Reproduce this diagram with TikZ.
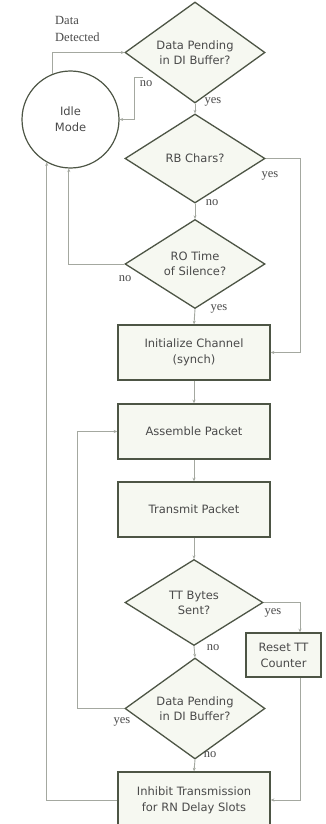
\documentclass[tikz,border=0pt]{standalone}
\usepackage{fontspec}
\setmainfont{Liberation Serif}
\newfontfamily\boxfont{DejaVu Sans}
\usetikzlibrary{shapes.geometric,arrows.meta}
\definecolor{edgec}{HTML}{4D5545}
\definecolor{fillc}{HTML}{F6F8F1}
\definecolor{linec}{HTML}{A4A8A0}
\definecolor{txtc}{HTML}{4A4A4A}
\tikzset{
  dec/.style={diamond, draw=edgec, line width=1.3pt, fill=fillc, inner sep=0pt,
     minimum width=140pt, minimum height=89pt, align=center, text=txtc,
     font=\boxfont\fontsize{11.5}{15}\selectfont},
  procbox/.style={rectangle, draw=edgec, line width=1.5pt, fill=fillc,
     minimum width=152pt, minimum height=55pt, align=center, text=txtc,
     font=\boxfont\fontsize{11.5}{16}\selectfont},
  idlec/.style={circle, draw=edgec, line width=1.2pt, fill=white,
     minimum size=97pt, align=center, text=txtc,
     font=\boxfont\fontsize{11.5}{16}\selectfont},
  arr/.style={draw=linec, line width=0.9pt, -{Stealth[length=3.5pt,width=3pt]}},
  lbl/.style={text=txtc, font=\fontsize{12.5}{17}\selectfont, inner sep=0pt}
}
\begin{document}
\begin{tikzpicture}[x=1pt,y=-1pt]
\useasboundingbox (0,0) rectangle (325,824);
\fill[white] (0,0) rectangle (325,824);

\node[idlec] (idle) at (70.5,119.5) {Idle\\Mode};
\node[dec] (d1) at (195,52.5) {Data Pending\\in DI Buffer?};
\node[dec] (d2) at (195,158.5) {RB Chars?};
\node[dec] (d3) at (195,264) {RO Time\\of Silence?};
\node[procbox] (init) at (194,352.5) {Initialize Channel\\(synch)};
\node[procbox] (asm) at (194,431.5) {Assemble Packet};
\node[procbox] (tx) at (194,509.5) {Transmit Packet};
\node[dec, minimum width=138pt, minimum height=86pt] (tt) at (194,602.5) {TT Bytes\\Sent?};
\node[procbox, minimum width=75pt, minimum height=44pt] (reset) at (283.5,655) {Reset TT\\Counter};
\node[dec, minimum height=87pt] (d4) at (195,708.5) {Data Pending\\in DI Buffer?};
\node[procbox, minimum height=56pt] (inh) at (194,800) {Inhibit Transmission\\for RN Delay Slots};

\node[lbl, align=left, anchor=north west] (dd) at (55,16) {Data\\Detected};

% connectors
\draw[arr] (idle.112) |- (d1.west);
\coordinate (n1s) at (143,77);
\draw[arr] (n1s) -- ++(-9,0) |- (idle.east);
\draw[arr] (d1.south) -- (d2.north);
\draw[arr] (d2.east) -- ++(35,0) |- (init.east);
\draw[arr] (d2.south) -- (d3.north);
\draw[arr] (d3.west) -| (idle.268);
\draw[arr] (d3.south) -- (init.north);
\draw[arr] (init.south) -- (asm.north);
\draw[arr] (asm.south) -- (tx.north);
\draw[arr] (tx.south) -- (tt.north);
\draw[arr] (tt.east) -| ([xshift=16.5pt]reset.north);
\draw[arr] ([xshift=16.5pt]reset.south) |- (inh.east);
\draw[arr] (tt.south) -- (d4.north);
\draw[arr] (d4.west) -- ++(-47,0) |- (asm.west);
\draw[arr] (d4.south) -- (inh.north);
\draw[arr] (inh.west) -| (idle.241);

% labels
\node[lbl] (l1) at (146,84) {no};
\node[lbl] (l2) at (213,102) {yes};
\node[lbl] (l3) at (270,176) {yes};
\node[lbl] (l4) at (212,203) {no};
\node[lbl] (l5) at (125,279) {no};
\node[lbl] (l6) at (219,309) {yes};
\node[lbl] (l7) at (273,613) {yes};
\node[lbl] (l8) at (213,648) {no};
\node[lbl] (l9) at (122,722) {yes};
\node[lbl] (l10) at (210,755) {no};
\end{tikzpicture}
\end{document}
